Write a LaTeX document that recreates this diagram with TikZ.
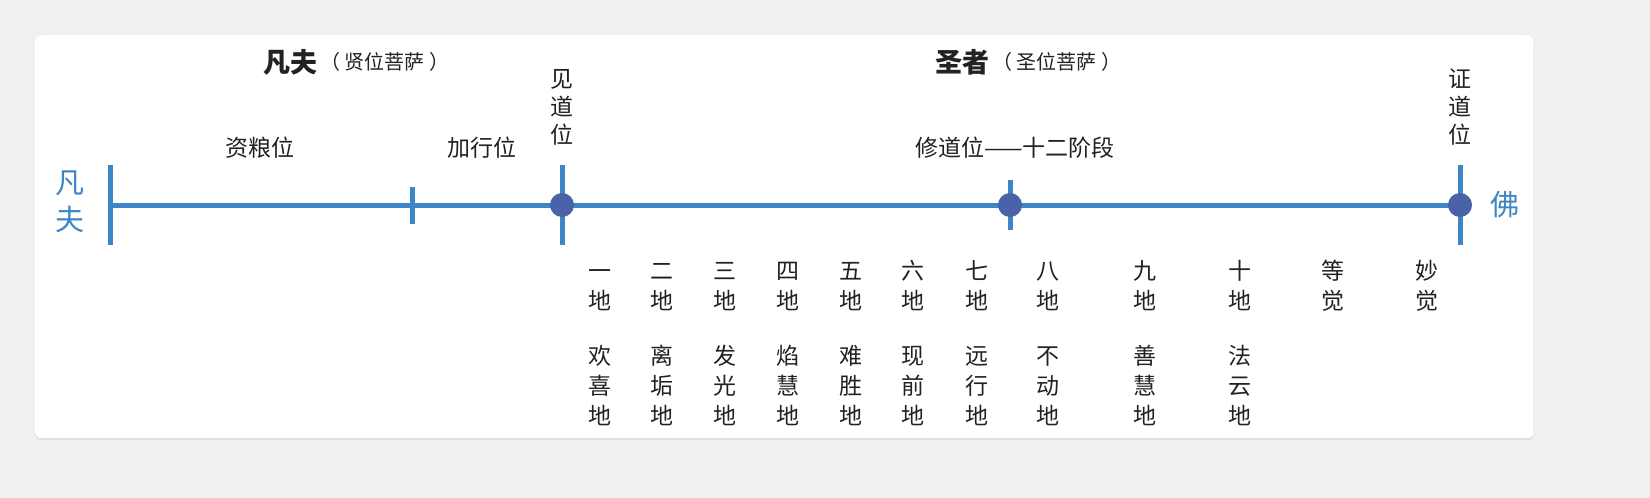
\documentclass[tikz,border=0pt]{standalone}
\usepackage{fontspec}
\newfontfamily\cjk{Noto Sans CJK SC}
\usetikzlibrary{shadows}
\definecolor{lineblue}{HTML}{3D85C6}
\definecolor{dotblue}{HTML}{4A62A8}
\definecolor{txt}{HTML}{222222}
\begin{document}
\begin{tikzpicture}[x=1pt,y=-1pt,
  lbl/.style={font=\cjk\fontsize{23}{24}\selectfont, text=txt, inner sep=0pt},
  col/.style={font=\cjk\fontsize{23}{30}\selectfont, text=txt, inner sep=0pt, align=center, anchor=base},
  tick/.style={draw=lineblue, line width=5pt},
  dot/.style={circle, fill=dotblue, minimum size=24pt, inner sep=0pt}]
\useasboundingbox (0,0) rectangle (1650,498);
\fill[white!94!black] (0,0) rectangle (1650,498);
\node[draw=none, fill=white, rounded corners=6pt, minimum width=1498pt, minimum height=403pt, anchor=north west, drop shadow={opacity=0.15, shadow xshift=0pt, shadow yshift=-2pt}] (card) at (35,35) {};
% main line
\coordinate (L) at (110,205); \coordinate (R) at (1460,205);
\draw[lineblue, line width=5pt] (L) -- (R);
\draw[tick] (110,165) -- (110,245);
\draw[tick] (412,187) -- (412,224);
\draw[tick] (562,165) -- (562,245);
\draw[tick] (1010,180) -- (1010,230);
\draw[tick] (1460,165) -- (1460,245);
\node[dot] (d1) at (562,205) {};
\node[dot] (d2) at (1010,205) {};
\node[dot] (d3) at (1460,205) {};
% headings
\node[lbl, anchor=east] (h1) at (318,62) {\fontsize{27}{28}\selectfont\bfseries 凡夫};
\node[lbl, anchor=west] (h1b) at (320,62) {\fontsize{20}{20}\selectfont （ 贤位菩萨 ）};
\node[lbl, anchor=east] (h2) at (990,62) {\fontsize{27}{28}\selectfont\bfseries 圣者};
\node[lbl, anchor=west] (h2b) at (992,62) {\fontsize{20}{20}\selectfont （ 圣位菩萨 ）};
\node[lbl] (z1) at (260,148) {资粮位};
\node[lbl] (z2) at (482,148) {加行位};
\node[lbl] (z3) at (1015,148) {修道位——十二阶段};
\node[col, font=\cjk\fontsize{23}{28}\selectfont] (jd) at (562,143) {见\\道\\位};
\node[col, font=\cjk\fontsize{23}{28}\selectfont] (zd) at (1460,143) {证\\道\\位};
\node[col, text=lineblue, font=\cjk\fontsize{29}{37}\selectfont] (ff) at (70,230) {凡\\夫};
\node[lbl, text=lineblue, font=\cjk\fontsize{29}{30}\selectfont] (fo) at (1505,205) {佛};
% columns
\foreach \x/\a/\b/\c/\d [count=\i] in {600/一/欢/喜/地,662/二/离/垢/地,725/三/发/光/地,788/四/焰/慧/地,851/五/难/胜/地,913/六/现/前/地,977/七/远/行/地,1048/八/不/动/地,1145/九/善/慧/地,1240/十/法/云/地}{
  \node[col] (c\i) at (\x,309) {\a\\地};
  \node[col] (n\i) at (\x,424) {\b\\\c\\\d};
}
\node[col] (c11) at (1333,309) {等\\觉};
\node[col] (c12) at (1427,309) {妙\\觉};
\end{tikzpicture}
\end{document}
